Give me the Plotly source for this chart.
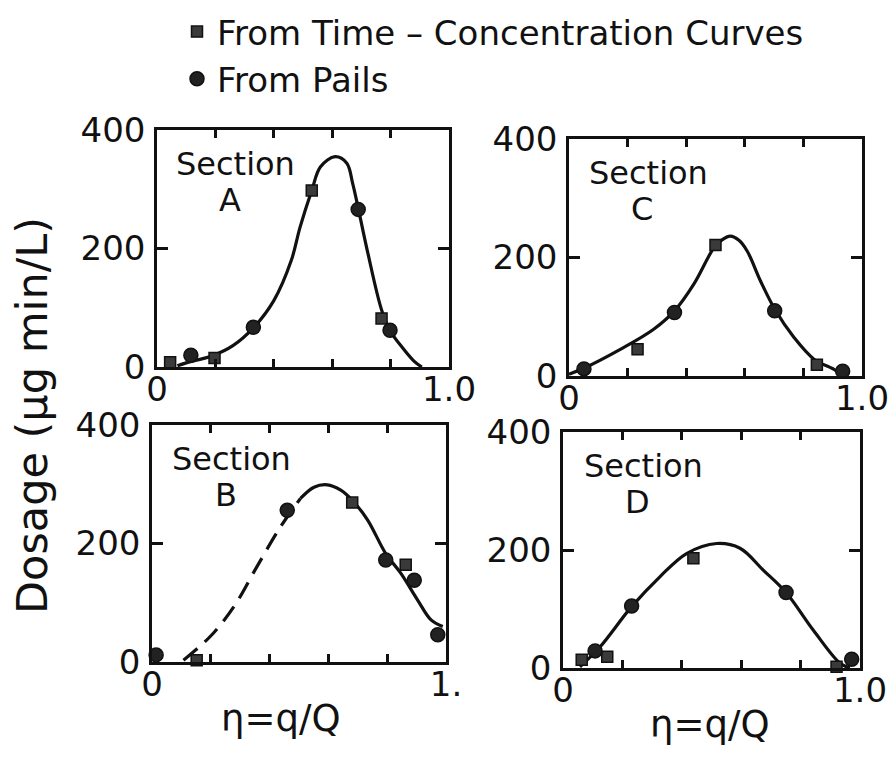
import plotly.graph_objects as go

# ---------------- data ----------------
# Section A
a_sq_x = [0.045, 0.197, 0.53, 0.769]
a_sq_y = [8, 15, 298, 82]
a_ci_x = [0.116, 0.33, 0.689, 0.798]
a_ci_y = [20, 67, 266, 62]
a_fit_x = [0.07, 0.10, 0.19, 0.26, 0.33, 0.40, 0.46, 0.49, 0.53, 0.56, 0.61, 0.65, 0.67, 0.69, 0.72, 0.77, 0.80, 0.84, 0.88, 0.907]
a_fit_y = [2, 7, 19, 36, 66, 112, 180, 236, 298, 338, 355, 344, 310, 266, 197, 95, 60, 33, 10, 0]

# Section C
c_sq_x = [0.234, 0.50, 0.846]
c_sq_y = [45, 221, 19]
c_ci_x = [0.051, 0.36, 0.702, 0.934]
c_ci_y = [12, 107, 110, 8]
c_fit_x = [0.0, 0.05, 0.175, 0.289, 0.36, 0.426, 0.494, 0.52, 0.551, 0.58, 0.608, 0.654, 0.702, 0.768, 0.837, 0.905, 0.934]
c_fit_y = [3, 13, 45, 79, 110, 155, 216, 229, 236, 229, 211, 160, 113, 65, 28, 11, 0]

# Section B
b_sq_x = [0.152, 0.681, 0.863]
b_sq_y = [3, 269, 164]
b_ci_x = [0.014, 0.46, 0.795, 0.892, 0.972]
b_ci_y = [12, 256, 172, 138, 46]
b_dash_x = [0.107, 0.198, 0.278, 0.357, 0.437, 0.505]
b_dash_y = [3, 43, 93, 161, 228, 276]
b_fit_x = [0.505, 0.551, 0.596, 0.642, 0.681, 0.733, 0.795, 0.846, 0.903, 0.949, 0.989]
b_fit_y = [276, 295, 299, 290, 273, 240, 183, 150, 105, 71, 60]

# Section D
d_sq_x = [0.063, 0.149, 0.439, 0.921]
d_sq_y = [14, 19, 186, 2]
d_ci_x = [0.108, 0.231, 0.751, 0.972]
d_ci_y = [29, 105, 128, 15]
d_fit_x = [0.057, 0.125, 0.231, 0.327, 0.416, 0.517, 0.596, 0.674, 0.751, 0.843, 0.933, 0.966]
d_fit_y = [2, 36, 104, 155, 194, 211, 203, 166, 128, 64, 8, 0]

section_names = ["A", "C", "B", "D"]
x_tick_right = ["1.0", "1.0", "1.", "1.0"]
y_tickvals = [0, 200, 400]
y_ticktext = ["0", "200", "400"]
x_tickvals = [0, 0.2, 0.4, 0.6, 0.8, 1.0]

legend_square = "From Time – Concentration Curves"
legend_circle = "From Pails"
y_title = "Dosage (µg min/L)"
x_title = "η=q/Q"

# ---------------- figure ----------------
W, H = 890, 769
FONT = "DejaVu Sans"
INK = "#111111"

# pixel boxes of the four panels: (left, right, top, bottom)
boxes = [(157, 449, 130, 367), (569, 862, 139, 376), (152, 446, 425, 662), (563, 860, 432, 668)]

panels = [
    (a_sq_x, a_sq_y, a_ci_x, a_ci_y, [(a_fit_x, a_fit_y, "solid")]),
    (c_sq_x, c_sq_y, c_ci_x, c_ci_y, [(c_fit_x, c_fit_y, "solid")]),
    (b_sq_x, b_sq_y, b_ci_x, b_ci_y, [(b_dash_x, b_dash_y, "18px,10px"), (b_fit_x, b_fit_y, "solid")]),
    (d_sq_x, d_sq_y, d_ci_x, d_ci_y, [(d_fit_x, d_fit_y, "solid")]),
]

fig = go.Figure()
layout = dict(
    width=W, height=H, margin=dict(l=0, r=0, t=0, b=0, autoexpand=False),
    paper_bgcolor="white", plot_bgcolor="white",
    font=dict(family=FONT, color=INK, size=34),
    showlegend=True,
    legend=dict(x=177 / W, y=1 - 3 / H, xanchor="left", yanchor="top",
                font=dict(family=FONT, size=34, color=INK),
                bgcolor="rgba(0,0,0,0)", tracegroupgap=0, traceorder="normal",
                itemsizing="trace"),
)

annotations = []
for i, ((sx, sy, cx, cy, fits), (l, r, t, b)) in enumerate(zip(panels, boxes)):
    n = "" if i == 0 else str(i + 1)
    xa, ya = "x" + n, "y" + n
    for fx, fy, dash in fits:
        fig.add_trace(go.Scatter(x=fx, y=fy, xaxis=xa, yaxis=ya, mode="lines",
                                 line=dict(color=INK, width=3.2, dash=dash, shape="spline", smoothing=1.0),
                                 showlegend=False, hoverinfo="skip", cliponaxis=False))
    fig.add_trace(go.Scatter(x=sx, y=sy, xaxis=xa, yaxis=ya, mode="markers",
                             name=legend_square, legendgroup="sq", showlegend=(i == 0),
                             marker=dict(symbol="square", size=11, color="#3a3a3a",
                                         line=dict(color=INK, width=1.5)),
                             cliponaxis=False))
    fig.add_trace(go.Scatter(x=cx, y=cy, xaxis=xa, yaxis=ya, mode="markers",
                             name=legend_circle, legendgroup="ci", showlegend=(i == 0),
                             marker=dict(symbol="circle", size=14, color="#222222",
                                         line=dict(color=INK, width=1.5)),
                             cliponaxis=False))
    common = dict(showline=True, linewidth=2.5, linecolor=INK, mirror="ticks",
                  ticks="inside", tickwidth=2.5, tickcolor=INK, showgrid=False,
                  zeroline=False, automargin=False,
                  tickfont=dict(family=FONT, size=34, color=INK))
    layout["xaxis" + n] = dict(common, domain=[l / W, r / W], anchor=ya, range=[0, 1],
                               tickvals=x_tickvals,
                               ticktext=["0", "", "", "", "", x_tick_right[i]],
                               ticklen=8, ticklabelstandoff=-10)
    layout["yaxis" + n] = dict(common, domain=[1 - b / H, 1 - t / H], anchor=xa, range=[0, 400],
                               tickvals=y_tickvals, ticktext=y_ticktext, ticklen=11,
                               ticklabelstandoff=2)
    annotations.append(dict(text="Section", xref=xa, yref=ya, x=0.27, y=343,
                            showarrow=False, font=dict(family=FONT, size=32, color=INK),
                            xanchor="center", yanchor="middle"))
    annotations.append(dict(text=section_names[i], xref=xa, yref=ya, x=0.25, y=282,
                            showarrow=False, font=dict(family=FONT, size=32, color=INK),
                            xanchor="center", yanchor="middle"))

annotations.append(dict(text=y_title, xref="paper", yref="paper", x=32 / W, y=1 - 416 / H,
                        textangle=-90, showarrow=False,
                        font=dict(family=FONT, size=43, color=INK),
                        xanchor="center", yanchor="middle"))
annotations.append(dict(text=x_title, xref="paper", yref="paper", x=281 / W, y=1 - 718 / H,
                        showarrow=False, font=dict(family=FONT, size=37, color=INK),
                        xanchor="center", yanchor="middle"))
annotations.append(dict(text=x_title, xref="paper", yref="paper", x=710 / W, y=1 - 724 / H,
                        showarrow=False, font=dict(family=FONT, size=37, color=INK),
                        xanchor="center", yanchor="middle"))
layout["annotations"] = annotations

fig.update_layout(**layout)
fig.write_html("out.html", config={"displayModeBar": False},
               post_script="document.body.style.margin='0';")
